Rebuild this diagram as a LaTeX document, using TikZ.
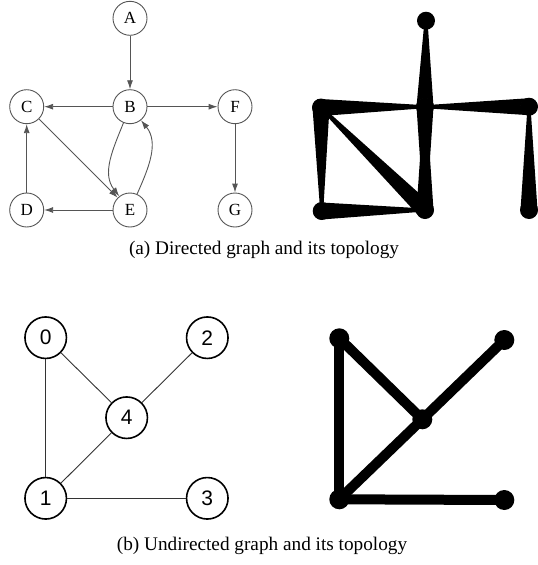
\documentclass[tikz,border=0pt]{standalone}
\usepackage{fontspec}
\setmainfont{Liberation Serif}
\newfontfamily\numfont{Liberation Sans}
\usetikzlibrary{arrows.meta,calc}
\definecolor{edgegray}{HTML}{555555}
\tikzset{
  dnode/.style={circle,draw=edgegray,line width=0.9pt,minimum size=34pt,inner sep=0pt,font=\fontsize{17}{17}\selectfont},
  darrow/.style={draw=edgegray,line width=0.9pt,-{Latex[length=9pt,width=6pt]}},
  unode/.style={circle,draw=black,line width=1.6pt,minimum size=41.5pt,inner sep=0pt,font=\numfont\fontsize{21}{21}\selectfont},
  uedge/.style={draw=black!80,line width=0.9pt},
  tdot/.style={circle,fill=black,minimum size=18pt,inner sep=0pt},
  bdot/.style={circle,fill=black,minimum size=20pt,inner sep=0pt},
  bedge/.style={draw=black,line width=10pt},
  captionstyle/.style={font=\fontsize{19.25}{23}\selectfont,anchor=base,inner sep=0pt}
}
\newcommand\taper[2]{%
  \fill let \p1=(#1), \p2=(#2), \n1={atan2(\y2-\y1,\x2-\x1)} in
    ($(#1)+(\n1+90:1.5pt)$) -- ($(#2)+(\n1+90:8.5pt)$) -- ($(#2)+(\n1-90:8.5pt)$) -- ($(#1)+(\n1-90:1.5pt)$) -- cycle
    (#2) circle[radius=8.5pt];%
}
\begin{document}
\begin{tikzpicture}[x=1pt,y=-1pt]
\useasboundingbox (0,0) rectangle (538,565);
% (a) directed graph
\node[dnode] (A) at (130,18.3) {A};
\node[dnode] (B) at (130,106.7) {B};
\node[dnode] (C) at (26.7,106.7) {C};
\node[dnode] (F) at (235,106.7) {F};
\node[dnode] (D) at (26.7,210) {D};
\node[dnode] (E) at (130,210) {E};
\node[dnode] (G) at (235,210) {G};
\draw[darrow] (A) -- (B);
\draw[darrow] (B) -- (C);
\draw[darrow] (B) -- (F);
\draw[darrow] (F) -- (G);
\draw[darrow] (D) -- (C);
\draw[darrow] (C) -- (E);
\draw[darrow] (E) -- (D);
\draw[darrow] (B) to[out=-112,in=128] (E);
\draw[darrow] (E) to[out=66,in=-51] (B);
% (a) topology
\node[tdot] (tA) at (426,20.7) {};
\node[tdot] (tB) at (425,106.7) {};
\node[tdot] (tC) at (321,107.5) {};
\node[tdot] (tF) at (529,106.7) {};
\node[tdot] (tD) at (321.7,211) {};
\node[tdot] (tE) at (425,210) {};
\node[tdot] (tG) at (529,210) {};
\taper{tA.center}{tB.center}
\taper{tB.center}{tC.center}
\taper{tB.center}{tF.center}
\taper{tF.center}{tG.center}
\taper{tD.center}{tC.center}
\taper{tC.center}{tE.center}
\taper{tE.center}{tD.center}
\taper{tB.center}{tE.center}
\taper{tE.center}{tB.center}
\node[captionstyle] (capa) at (264,254) {(a) Directed graph and its topology};
% (b) undirected graph
\node[unode] (n0) at (45.7,337.7) {0};
\node[unode] (n2) at (207.3,337.7) {2};
\node[unode] (n4) at (126.7,417.7) {4};
\node[unode] (n1) at (45.7,498.3) {1};
\node[unode] (n3) at (207.3,498.3) {3};
\draw[uedge] (n0) -- (n4);
\draw[uedge] (n0) -- (n1);
\draw[uedge] (n2) -- (n4);
\draw[uedge] (n4) -- (n1);
\draw[uedge] (n1) -- (n3);
% (b) topology
\node[bdot] (m0) at (339.3,338.3) {};
\node[bdot] (m2) at (504.3,340) {};
\node[bdot] (m4) at (422.3,419.3) {};
\node[bdot] (m1) at (339.3,499.3) {};
\node[bdot] (m3) at (504.3,500) {};
\draw[bedge] (m0.center) -- (m4.center);
\draw[bedge] (m0.center) -- (m1.center);
\draw[bedge] (m2.center) -- (m4.center);
\draw[bedge] (m4.center) -- (m1.center);
\draw[bedge] (m1.center) -- (m3.center);
\node[captionstyle] (capb) at (262,550) {(b) Undirected graph and its topology};
\end{tikzpicture}
\end{document}
